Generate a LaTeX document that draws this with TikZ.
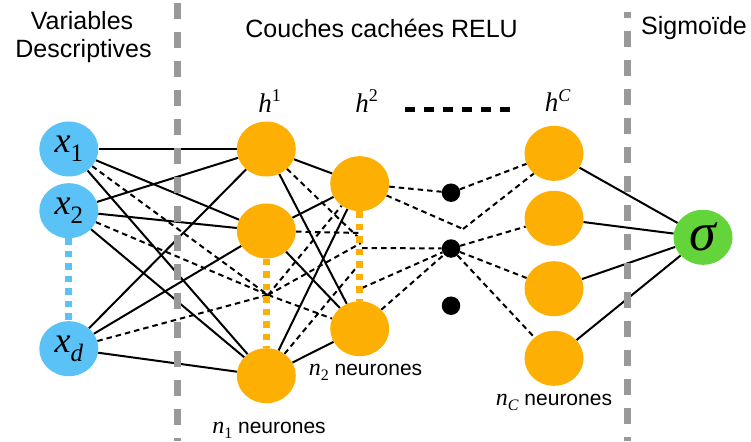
\documentclass[tikz,border=0pt]{standalone}
\usepackage{fontspec}
\setmainfont{Liberation Sans}
\newfontfamily\tms{Liberation Serif}
\usetikzlibrary{shapes.geometric,backgrounds}
\definecolor{inblue}{RGB}{90,194,247}
\definecolor{horange}{RGB}{253,176,3}
\definecolor{ogreen}{RGB}{99,213,58}
\definecolor{sepgray}{RGB}{153,153,153}
\newcommand\xlab[1]{x\raisebox{-9pt}{\fontsize{25}{25}\selectfont #1}}
\newcommand\hlab[1]{h\raisebox{10pt}{\fontsize{18}{18}\selectfont #1}}
\newcommand\nlab[1]{{\tms\itshape\fontsize{24}{24}\selectfont n\raisebox{-5pt}{\fontsize{16}{16}\selectfont #1}} neurones}
\begin{document}
\begin{tikzpicture}[x=1pt,y=-1pt,
  neuron/.style={ellipse, minimum width=59pt, minimum height=55pt, inner sep=0pt},
  inp/.style={neuron, fill=inblue, font=\fontsize{36}{36}\selectfont\tms\itshape},
  hid/.style={neuron, fill=horange},
  outn/.style={neuron, fill=ogreen, font=\fontsize{54}{54}\selectfont\tms\itshape},
  blob/.style={circle, fill=black, minimum size=18.5pt, inner sep=0pt},
  wire/.style={line width=2pt},
  dwire/.style={line width=2pt, dash pattern=on 5.5pt off 4pt},
  sep/.style={line width=7pt, sepgray, dash pattern=on 16pt off 13pt},
  bluedots/.style={line width=7pt, inblue, dash pattern=on 6.5pt off 6pt},
  orangedots/.style={line width=7pt, horange, dash pattern=on 6.5pt off 6pt},
  head/.style={anchor=base, inner sep=0pt, font=\fontsize{25}{25}\selectfont},
  mlab/.style={anchor=base, inner sep=0pt, font=\fontsize{27}{27}\selectfont\tms\itshape},
  nl/.style={anchor=base, inner sep=0pt, font=\fontsize{21}{21}\selectfont}]
\useasboundingbox (0,0) rectangle (751,441);

% headers
\node[head] (t1) at (82,29.3) {Variables};
\node[head] (t2) at (83.5,57.3) {Descriptives};
\node[head] (t3) at (381.6,37.7) {Couches cachées RELU};
\node[head] (t4) at (694,35) {Sigmoïde};

% layer labels
\node[mlab] (l1) at (269.5,112) {\hlab{\upshape 1}};
\node[mlab] (l2) at (366.5,112) {\hlab{\upshape 2}};
\node[mlab] (l3) at (557.5,111.7) {\hlab{C}};
\coordinate (ds) at (405,109.3);
\coordinate (de) at (510,109.3);

% neurons
\node[inp] (x1) at (68.8,149) {\xlab{\upshape 1}};
\node[inp] (x2) at (68.8,210.7) {\xlab{\upshape 2}};
\node[inp] (xd) at (68.8,348.7) {\xlab{d}};
\node[hid] (a1) at (266.3,149) {};
\node[hid] (a2) at (266.3,231) {};
\node[hid] (a3) at (266.3,375.7) {};
\node[hid] (b1) at (359.7,183.7) {};
\node[hid] (b2) at (359.7,328.7) {};
\node[blob] (d1) at (451,192.7) {};
\node[blob] (d2) at (451,248.5) {};
\node[blob] (d3) at (451,305.7) {};
\node[hid] (c1) at (554,153.3) {};
\node[hid] (c2) at (554,218.3) {};
\node[hid] (c3) at (554,288.7) {};
\node[hid] (c4) at (554,358.3) {};
\node[outn] (s) at (703,237.3) {σ};

% count labels
\node[nl] (n1) at (269,433) {\nlab{\upshape 1}};
\node[nl] (n2) at (365.5,375) {\nlab{\upshape 2}};
\node[nl] (n3) at (554,405) {\nlab{C}};

% hidden junction points
\coordinate (H1) at (268,295);
\coordinate (Pa) at (361,240);
\coordinate (Pb) at (360,233);
\coordinate (Pc) at (361,262);
\coordinate (Pd) at (361,243);
\coordinate (Q1) at (362,248);
\coordinate (Q2) at (362,288);
\coordinate (X) at (463,229);

\begin{scope}[on background layer]
  \foreach \i in {x1,x2,xd} {
    \foreach \j in {a1,a2,a3} { \draw[wire] (\i) -- (\j); }
    \draw[dwire] (\i) -- (H1);
  }
  \foreach \i in {a1,a2,a3} {
    \foreach \j in {b1,b2} { \draw[wire] (\i) -- (\j); }
  }
  \draw[dwire] (a1) -- (Pa);
  \draw[dwire] (a2) -- (Pb);
  \draw[dwire] (a3) -- (Pc);
  \draw[dwire] (H1) -- (b1);
  \draw[dwire] (H1) -- (b2);
  \draw[dwire] (H1) -- (Pd);
  \draw[dwire] (b1) -- (d1);
  \draw[dwire] (b1) -- (X);
  \draw[dwire] (X) -- (c1.-135);
  \draw[dwire] (d1) -- (c1);
  \draw[dwire] (Q1) -- (d2);
  \draw[dwire] (Q2) -- (d2);
  \draw[dwire] (b2) -- (d2);
  \foreach \j in {c2,c3,c4} { \draw[dwire] (d2) -- (\j); }
  \foreach \j in {c1,c2,c3,c4} { \draw[wire] (\j) -- (s); }
\end{scope}

% dotted fillers
\draw[bluedots] (x2.south) -- (xd.north);
\draw[orangedots] (a2.south) -- (a3.north);
\draw[orangedots] (b1.south) -- (b2.north);
\draw[line width=4.5pt, dash pattern=on 10pt off 9pt] (ds) -- (de);

% separators
\coordinate (s1t) at (177.7,3);
\coordinate (s1b) at (177.7,441);
\coordinate (s2t) at (627.3,12);
\coordinate (s2b) at (627.3,441);
\draw[sep] (s1t) -- (s1b);
\draw[sep, dash phase=10pt] (s2t) -- (s2b);
\end{tikzpicture}
\end{document}
